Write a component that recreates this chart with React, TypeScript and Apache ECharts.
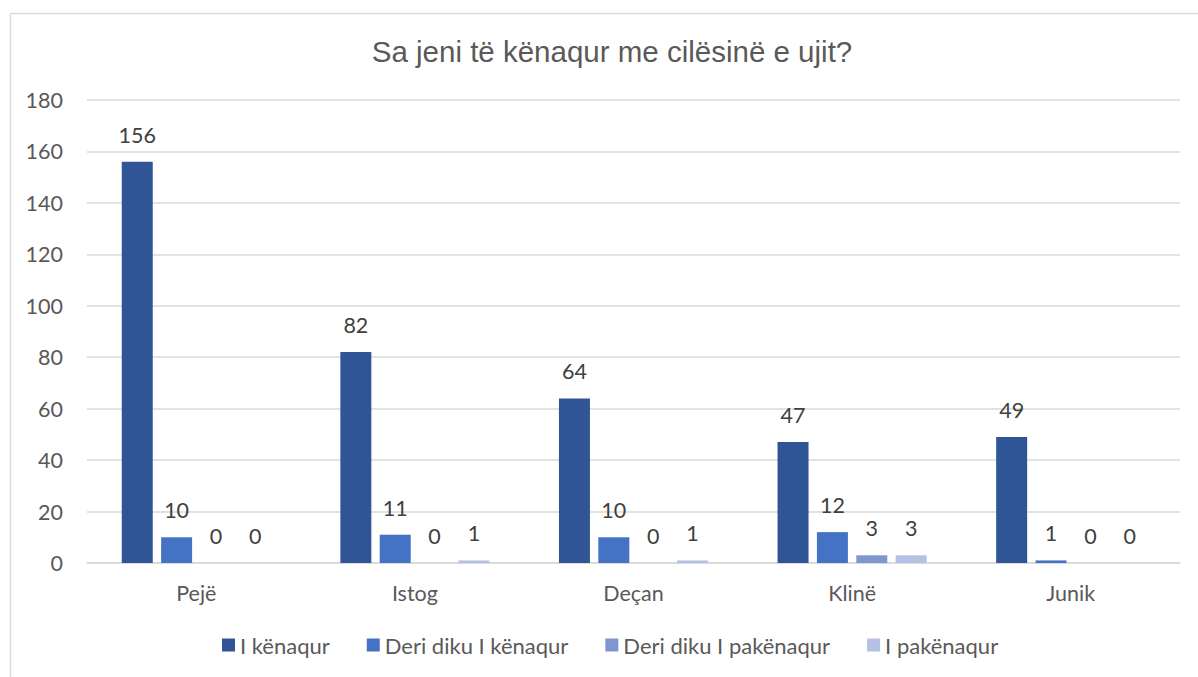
import React, { useEffect, useRef } from "react";
import * as echarts from "echarts";

const categories = ["Pejë", "Istog", "Deçan", "Klinë", "Junik"];
const seriesNames = ["I kënaqur", "Deri diku I kënaqur", "Deri diku I pakënaqur", "I pakënaqur"];
const kenaqur = [156, 82, 64, 47, 49];
const deriDikuKenaqur = [10, 11, 10, 12, 1];
const deriDikuPakenaqur = [0, 0, 0, 3, 0];
const pakenaqur = [0, 1, 1, 3, 0];
const colors = ["#2F5597", "#4472C4", "#7F96D1", "#B4C1E4"];
const titleText = "Sa jeni të kënaqur me cilësinë e ujit?";

const FONT = "Lato";

export default function App() {
  const ref = useRef<HTMLDivElement>(null);
  useEffect(() => {
    if (!ref.current) return;
    const chart = echarts.init(ref.current, null, { renderer: "svg" });
    const values = [kenaqur, deriDikuKenaqur, deriDikuPakenaqur, pakenaqur];
    chart.setOption({
      animation: false,
      backgroundColor: "#ffffff",
      textStyle: { fontFamily: FONT },
      title: {
        text: titleText,
        left: 607,
        textAlign: "center",
        top: 31,
        textStyle: {
          fontFamily: "Liberation Sans",
          fontSize: 29.5,
          fontWeight: "normal",
          color: "#595959",
        },
      },
      graphic: [
        {
          type: "rect",
          shape: { x: 10.5, y: 13.5, width: 1300, height: 800 },
          style: { fill: "none", stroke: "#D9D9D9", lineWidth: 1.5 },
          silent: true,
          z: -1,
        },
      ],
      legend: {
        left: 217,
        top: 629,
        itemWidth: 13,
        itemHeight: 13,
        itemGap: 37,
        icon: "rect",
        textStyle: { fontFamily: FONT, fontSize: 22, color: "#595959" },
        data: seriesNames,
      },
      grid: { left: 87, right: 18, top: 100, bottom: 114, containLabel: false },
      xAxis: {
        type: "category",
        data: categories,
        axisLine: { show: true, lineStyle: { color: "#D9D9D9", width: 1.5 } },
        axisTick: { show: false },
        axisLabel: { fontFamily: FONT, fontSize: 21.5, color: "#595959", margin: 19 },
      },
      yAxis: {
        type: "value",
        min: 0,
        max: 180,
        interval: 20,
        axisLine: { show: false },
        axisTick: { show: false },
        splitLine: { lineStyle: { color: "#D9D9D9", width: 1.5 } },
        axisLabel: { fontFamily: FONT, fontSize: 21.5, color: "#595959", margin: 24 },
      },
      series: seriesNames.map((name, i) => ({
        name,
        type: "bar",
        data: values[i],
        barWidth: 31,
        barGap: "27%",
        itemStyle: { color: colors[i] },
        label: {
          show: true,
          position: "top",
          distance: 16,
          fontFamily: FONT,
          fontSize: 21.5,
          color: "#404040",
        },
      })),
    });
    return () => chart.dispose();
  }, []);
  return (
    <div
      ref={ref}
      style={{ position: "absolute", left: 0, top: 0, width: 1198, height: 677 }}
    />
  );
}
